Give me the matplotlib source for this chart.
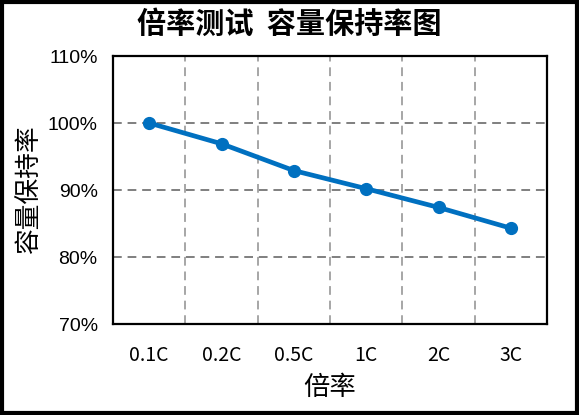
import matplotlib
matplotlib.use("Agg")
import matplotlib.pyplot as plt
from matplotlib.patches import Rectangle
from matplotlib.ticker import FuncFormatter

categories = ["0.1C", "0.2C", "0.5C", "1C", "2C", "3C"]
retention = [100.0, 96.9, 92.9, 90.2, 87.4, 84.3]
y_ticks = [70, 80, 90, 100, 110]

plt.rcParams['font.family'] = ['Noto Sans CJK SC', 'DejaVu Sans']

fig = plt.figure(figsize=(5.79, 4.15), dpi=100)
ax = fig.add_axes([113/579, 1-324/415, 434/579, 268/415])

x = list(range(len(categories)))
ax.plot(x, retention, color="#0070C0", linewidth=3.4, marker="o", markersize=8.5,
        zorder=3)

ax.set_xlim(-0.5, len(categories) - 0.5)
ax.set_ylim(70, 110)
ax.set_yticks(y_ticks)
ax.yaxis.set_major_formatter(FuncFormatter(lambda v, p: f"{int(v)}%"))
ax.set_xticks(x)
ax.set_xticklabels(categories)
ax.set_xticks([i + 0.5 for i in range(len(categories) - 1)], minor=True)

ax.tick_params(axis='both', which='both', length=0)
ax.tick_params(axis='y', labelsize=14, pad=11)
ax.tick_params(axis='x', labelsize=14, pad=15)
for lab in ax.get_yticklabels():
    lab.set_family(['Liberation Sans', 'DejaVu Sans'])

ax.grid(axis='y', which='major', color='#7f7f7f', linestyle=(0, (4.5, 3)), linewidth=1.4)
ax.grid(axis='x', which='minor', color='#a6a6a6', linestyle=(0, (4.5, 3)), linewidth=1.4)
ax.grid(axis='x', which='major', visible=False)

for s in ax.spines.values():
    s.set_color('black')
    s.set_linewidth(1.6)

fig.text(0.5, 1 - 24/415, "倍率测试  容量保持率图", fontsize=21, fontweight='bold',
         ha='center', va='center')
ax.set_ylabel("容量保持率", fontsize=18.5, labelpad=4)
ax.set_xlabel("倍率", fontsize=19, labelpad=6)

fig.patches.append(Rectangle((0.003, 0.004), 0.994, 0.992, transform=fig.transFigure,
                             fill=False, edgecolor='black', linewidth=3, zorder=10))

fig.savefig("out.png", dpi=100)
